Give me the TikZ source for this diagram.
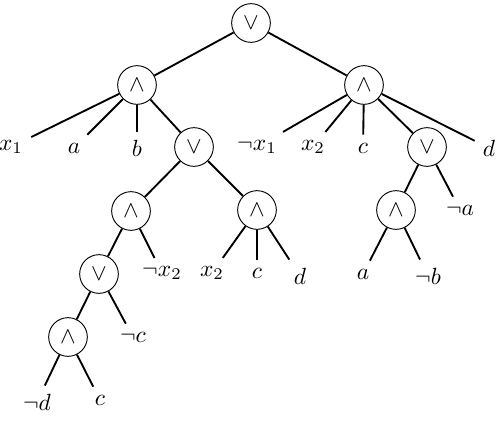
\documentclass[tikz,border=0pt]{standalone}
\usepackage{amsmath}
\usepackage{amssymb}

\tikzset{gate/.style={draw, circle, minimum size=5.8mm, inner sep=0pt},
  wire/.style={thick}}

\begin{document}
\begin{tikzpicture}[x=0.15mm, y=-0.15mm]
\useasboundingbox (0,0) rectangle (496,442);

% gates
\node[gate] (or0) at (251,23) {$\vee$};
\node[gate] (andL) at (137,85) {$\wedge$};
\node[gate] (andR) at (364,85) {$\wedge$};
\node[gate] (orL) at (194,147) {$\vee$};
\node[gate] (orR) at (427,147) {$\vee$};
\node[gate] (andLA) at (131,211) {$\wedge$};
\node[gate] (andLB) at (257,210) {$\wedge$};
\node[gate] (andRA) at (396,210) {$\wedge$};
\node[gate] (orLC) at (99,274) {$\vee$};
\node[gate] (andLD) at (68,337) {$\wedge$};

% literals
\node (x1) at (11,147) {$x_1$};
\node (a1) at (74,148) {$a$};
\node (b1) at (137,148) {$b$};
\node (nx1) at (257,147) {$\neg x_1$};
\node (x2) at (313,147) {$x_2$};
\node (c1) at (363,148) {$c$};
\node (d1) at (489,148) {$d$};
\node (na) at (460,210) {$\neg a$};
\node (nx2) at (162,273) {$\neg x_2$};
\node (x2b) at (212,273) {$x_2$};
\node (c2) at (257,273) {$c$};
\node (d2) at (300,276) {$d$};
\node (a2) at (363,274) {$a$};
\node (nb) at (428,276) {$\neg b$};
\node (nc) at (133,337) {$\neg c$};
\node (nd) at (37,402) {$\neg d$};
\node (c3) at (100,400) {$c$};

% wires
\draw[wire] (or0) -- (andL);
\draw[wire] (or0) -- (andR);
\draw[wire] (andL) -- (x1);
\draw[wire] (andL) -- (a1);
\draw[wire] (andL) -- (b1);
\draw[wire] (andL) -- (orL);
\draw[wire] (andR) -- (nx1);
\draw[wire] (andR) -- (x2);
\draw[wire] (andR) -- (c1);
\draw[wire] (andR) -- (orR);
\draw[wire] (andR) -- (d1);
\draw[wire] (orL) -- (andLA);
\draw[wire] (orL) -- (andLB);
\draw[wire] (orR) -- (andRA);
\draw[wire] (orR) -- (na);
\draw[wire] (andLA) -- (orLC);
\draw[wire] (andLA) -- (nx2);
\draw[wire] (andLB) -- (x2b);
\draw[wire] (andLB) -- (c2);
\draw[wire] (andLB) -- (d2);
\draw[wire] (andRA) -- (a2);
\draw[wire] (andRA) -- (nb);
\draw[wire] (orLC) -- (andLD);
\draw[wire] (orLC) -- (nc);
\draw[wire] (andLD) -- (nd);
\draw[wire] (andLD) -- (c3);
\end{tikzpicture}
\end{document}
